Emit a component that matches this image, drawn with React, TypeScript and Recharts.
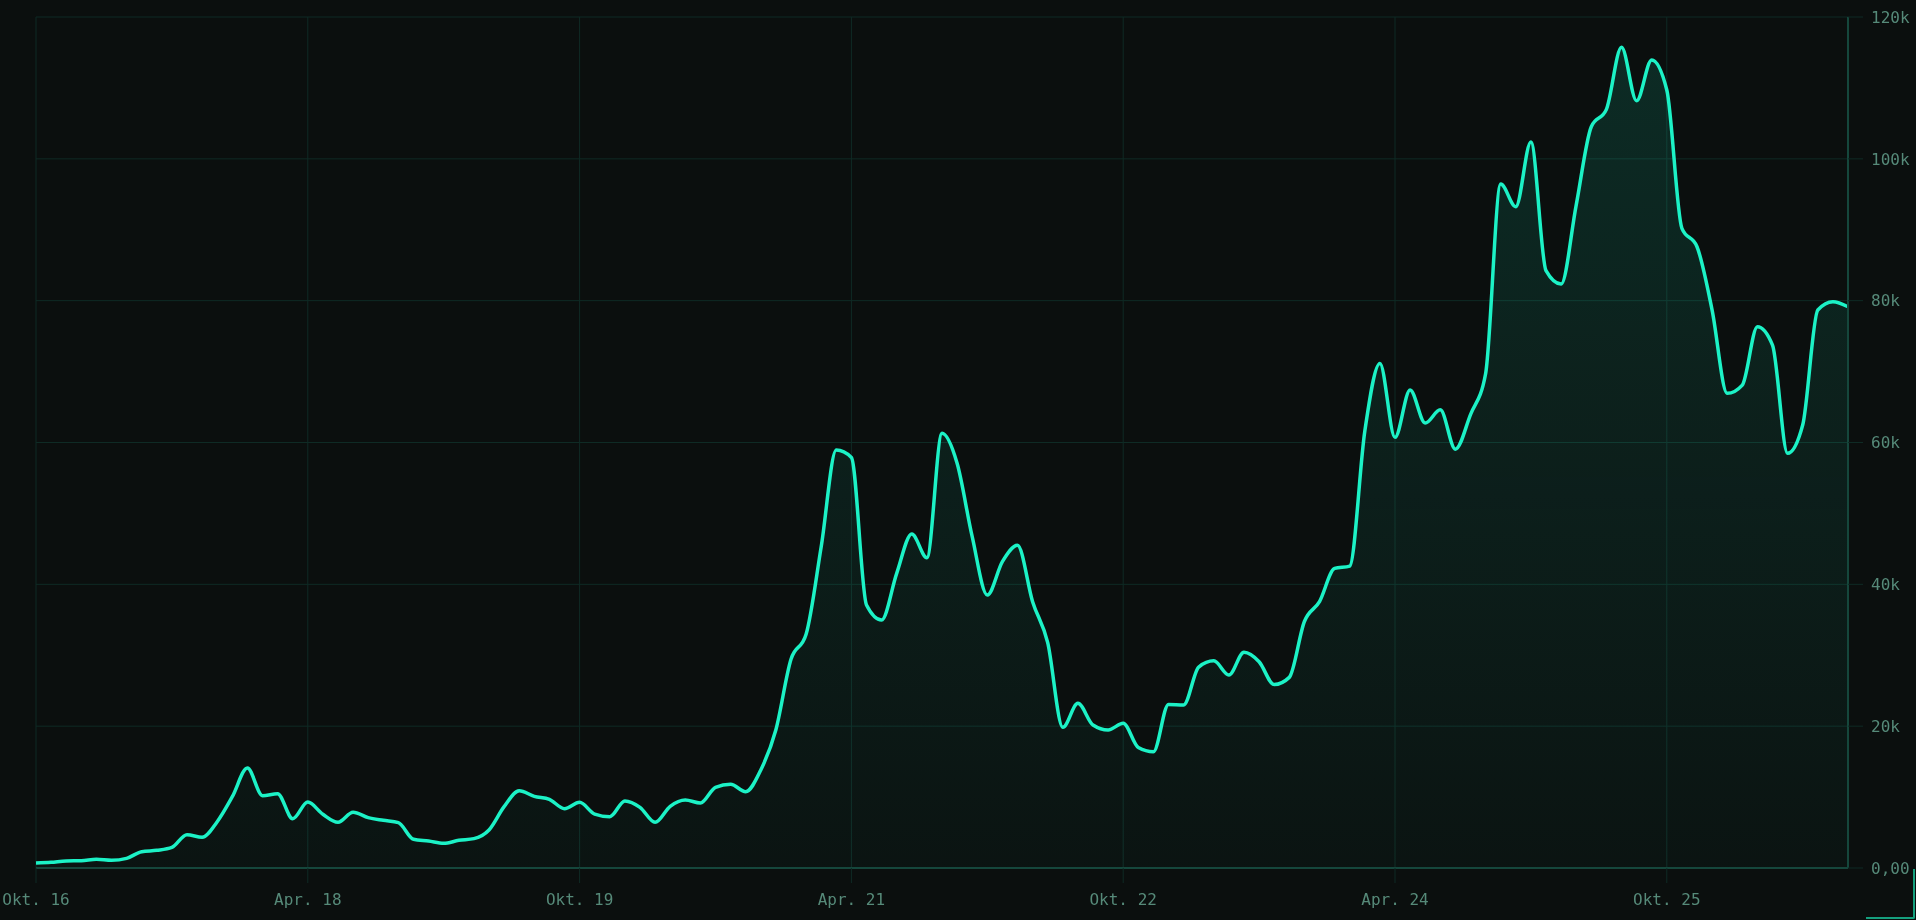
import React from 'react';
import { AreaChart, Area, XAxis, YAxis, CartesianGrid } from 'recharts';

const prices = [
  700, 800, 1000, 1030, 1220, 1080, 1360, 2300, 2490, 2900,
  4700, 4330, 6530, 10050, 14100, 10200, 10480, 6950, 9300, 7570,
  6440, 7850, 7100, 6720, 6400, 4050, 3800, 3480, 3900, 4140,
  5360, 8650, 10900, 10100, 9680, 8370, 9260, 7610, 7240, 9450,
  8550, 6440, 8700, 9590, 9170, 11380, 11800, 10760, 13820, 19500,
  29430, 32950, 45300, 58940, 57900, 37080, 34970, 41550, 47090, 43750,
  61290, 57060, 46720, 38490, 43190, 45500, 37550, 31770, 19840, 23220,
  20160, 19460, 20400, 16990, 16390, 23070, 23000, 28340, 29210, 27210,
  30420, 29080, 25870, 26880, 34760, 37560, 42240, 42570, 61600, 71150,
  60730, 67410, 62740, 64610, 59060, 63940, 69700, 96440, 93250, 102370,
  84230, 82340, 93480, 104530, 106970, 115720, 108190, 113930, 109700, 90190,
  87600, 78680, 66930, 68100, 76330, 73740, 58470, 62460, 78680, 79850,
  79140,
];

const xTicks = [0, 18, 36, 54, 72, 90, 108];
const xTickLabels = ['Okt. 16', 'Apr. 18', 'Okt. 19', 'Apr. 21', 'Okt. 22', 'Apr. 24', 'Okt. 25'];
const yTicks = [0, 20000, 40000, 60000, 80000, 100000, 120000];
const yTickLabels = ['0,00', '20k', '40k', '60k', '80k', '100k', '120k'];

const data = prices.map((p, i) => ({ m: i, price: p }));

const BG = '#0b0f0e';
const LINE = '#1cf2c6';
const GRID = '#0f2b25';
const AXIS = '#15473c';
const TEXT = '#568a79';
const FONT = '"DejaVu Sans Mono", monospace';

export default function App() {
  return (
    <>
      <div style={{ position: 'fixed', left: 0, top: 0, right: 0, bottom: 0, background: BG }} />
      <div style={{ position: 'absolute', left: 0, top: 0, width: 1916, height: 920 }}>
        <AreaChart width={1916} height={920} data={data} margin={{ top: 17, right: 0, bottom: 0, left: 36 }}>
          <defs>
            <linearGradient id="fillGrad" x1="0" y1="0" x2="0" y2="1">
              <stop offset="0%" stopColor={LINE} stopOpacity={0.21} />
              <stop offset="100%" stopColor={LINE} stopOpacity={0.04} />
            </linearGradient>
          </defs>
          <CartesianGrid stroke={GRID} strokeWidth={1} />
          <XAxis
            dataKey="m"
            type="number"
            domain={[0, 120]}
            ticks={xTicks}
            interval={0}
            tickFormatter={(v: number) => xTickLabels[xTicks.indexOf(v)] ?? ''}
            height={52}
            axisLine={{ stroke: AXIS, strokeWidth: 2 }}
            tickLine={{ stroke: GRID }}
            tickSize={15}
            tickMargin={11}
            tick={{ fill: TEXT, fontSize: 16, fontFamily: FONT }}
          />
          <YAxis
            orientation="right"
            domain={[0, 120000]}
            ticks={yTicks}
            interval={0}
            tickFormatter={(v: number) => yTickLabels[yTicks.indexOf(v)] ?? ''}
            width={68}
            axisLine={{ stroke: AXIS, strokeWidth: 2 }}
            tickLine={{ stroke: GRID }}
            tickSize={15}
            tickMargin={8}
            tick={{ fill: TEXT, fontSize: 16, fontFamily: FONT }}
          />
          <Area
            type="monotone"
            dataKey="price"
            stroke={LINE}
            strokeWidth={3.5}
            fill="url(#fillGrad)"
            dot={false}
            activeDot={false}
            isAnimationActive={false}
          />
        </AreaChart>
      </div>
      <div
        style={{
          position: 'absolute',
          left: 1866,
          top: 869,
          width: 47,
          height: 48,
          borderRight: '2px solid #15a07e',
          borderBottom: '2px solid #15a07e',
          borderBottomRightRadius: 2,
        }}
      />
    </>
  );
}
